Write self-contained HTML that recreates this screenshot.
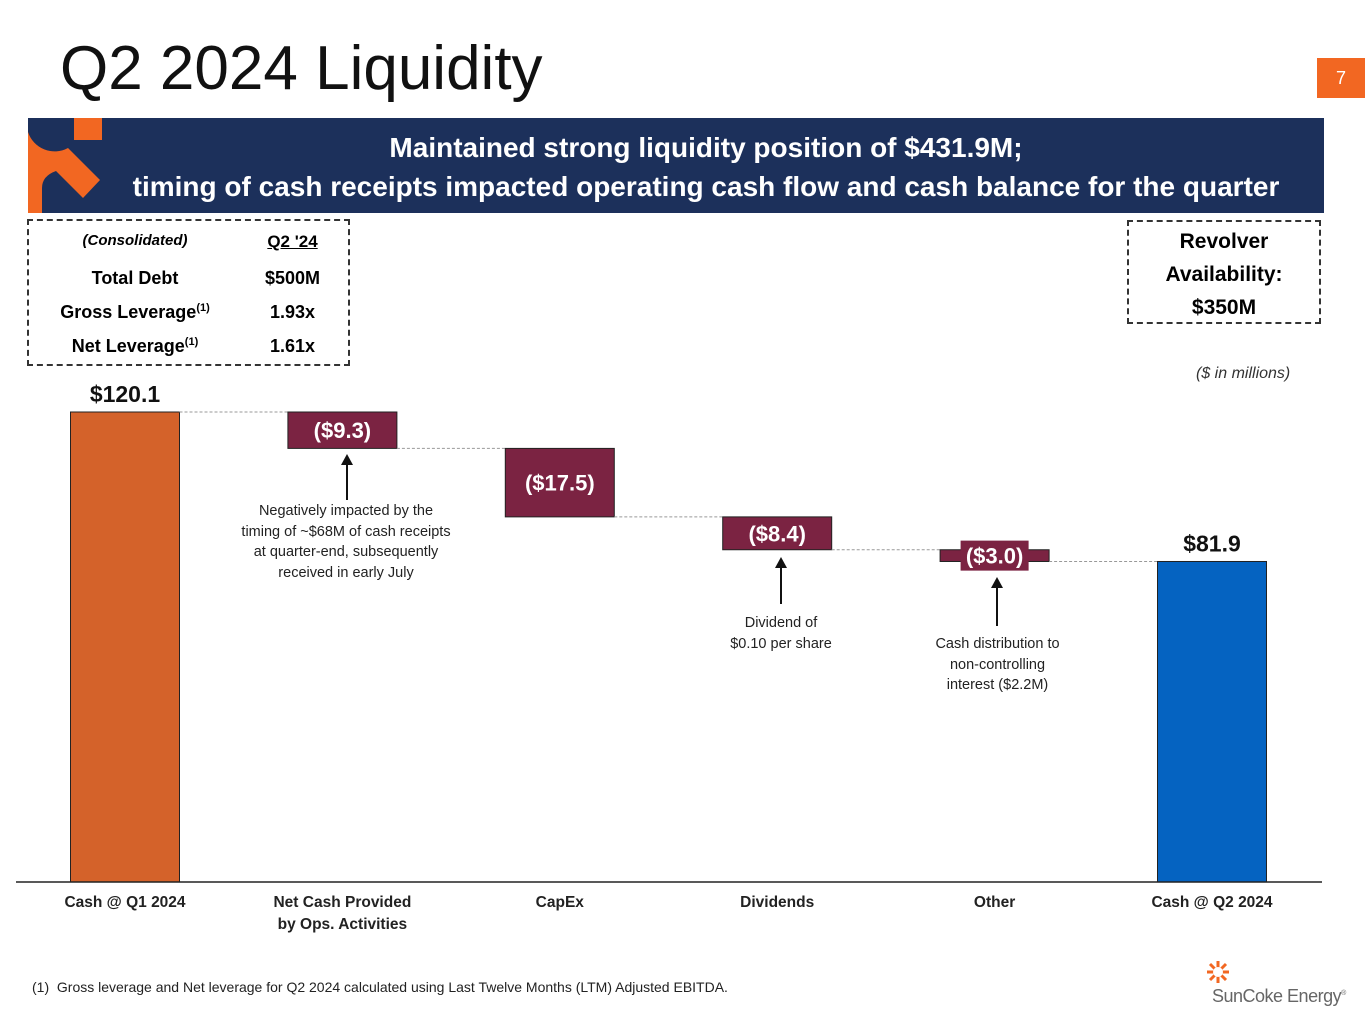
<!DOCTYPE html>
<html><head><meta charset="utf-8"><style>
body{margin:0;width:1365px;height:1024px;background:#fff;position:relative;overflow:hidden;font-family:"Liberation Sans",sans-serif}
.a{position:absolute}
.b{font-weight:bold}
</style></head><body>
<div class="a" style="left:60px;top:33px;font-size:62px;color:#111">Q2 2024 Liquidity</div>
<div class="a" style="left:1317px;top:58px;width:48px;height:40px;background:#f26722;color:#fff;font-size:18px;text-align:center;line-height:40px">7</div>
<div class="a" style="left:28px;top:118px;width:1296px;height:95px;background:#1c305b"></div>
<svg class="a" style="left:28px;top:118px" width="75" height="95"><rect x="46" y="0" width="28" height="22" fill="#f26722"/><path d="M0 14 A28 28 0 0 0 40 30 L72 62 L55 80 L28 53 Q14 58 14 70 L14 95 L0 95 Z" fill="#f26722"/></svg>
<div class="a b" style="left:28px;top:128px;width:1356px;text-align:center;color:#fff;font-size:28px;line-height:39px">Maintained strong liquidity position of $431.9M;<br>timing of cash receipts impacted operating cash flow and cash balance for the quarter</div>
<div class="a" style="left:27px;top:219px;width:319px;height:143px;border:2px dashed #333"></div>
<div class="a b" style="left:50px;top:232px;width:170px;text-align:center;font-size:15px;font-style:italic">(Consolidated)</div>
<div class="a b" style="left:250px;top:232px;width:85px;text-align:center;font-size:17px;text-decoration:underline">Q2 '24</div>
<div class="a b" style="left:50px;top:268px;width:170px;text-align:center;font-size:18px">Total Debt</div>
<div class="a b" style="left:250px;top:268px;width:85px;text-align:center;font-size:18px">$500M</div>
<div class="a b" style="left:50px;top:302px;width:170px;text-align:center;font-size:18px">Gross Leverage<sup style="font-size:11px">(1)</sup></div>
<div class="a b" style="left:250px;top:302px;width:85px;text-align:center;font-size:18px">1.93x</div>
<div class="a b" style="left:50px;top:336px;width:170px;text-align:center;font-size:18px">Net Leverage<sup style="font-size:11px">(1)</sup></div>
<div class="a b" style="left:250px;top:336px;width:85px;text-align:center;font-size:18px">1.61x</div>
<div class="a b" style="left:1127px;top:220px;width:194px;height:104px;border:2px dashed #333;text-align:center;font-size:21px;line-height:33px;padding-top:3px;box-sizing:border-box">Revolver<br>Availability:<br>$350M</div>
<div class="a" style="left:1196px;top:365px;font-size:16px;font-style:italic;color:#333">($ in millions)</div>
<svg class="a" id="chart" style="left:0;top:0" width="1365" height="1024"></svg>
<div class="a" style="left:206px;top:501px;width:280px;text-align:center;font-size:14.5px;line-height:20.5px;color:#222">Negatively impacted by the<br>timing of ~$68M of cash receipts<br>at quarter-end, subsequently<br>received in early July</div>
<div class="a" style="left:700px;top:613px;width:162px;text-align:center;font-size:14.5px;line-height:20.5px;color:#222">Dividend of<br>$0.10 per share</div>
<div class="a" style="left:900px;top:634px;width:195px;text-align:center;font-size:14.5px;line-height:20.5px;color:#222">Cash distribution to<br>non-controlling<br>interest ($2.2M)</div>
<div class="a" style="left:32px;top:979px;font-size:14px;color:#222">(1)&nbsp; Gross leverage and Net leverage for Q2 2024 calculated using Last Twelve Months (LTM) Adjusted EBITDA.</div>
<svg class="a" style="left:1206px;top:960px" width="24" height="24"><g stroke="#f26722" stroke-width="3"><line x1="12" y1="1" x2="12" y2="23"/><line x1="1" y1="12" x2="23" y2="12"/><line x1="4" y1="4" x2="20" y2="20"/><line x1="20" y1="4" x2="4" y2="20"/></g><circle cx="12" cy="12" r="5" fill="#fff"/></svg>
<div class="a" style="left:1212px;top:986px;font-size:18px;color:#666;letter-spacing:-0.5px">SunCoke Energy<sup style="font-size:7px">®</sup></div>
<script>
const categories=["Cash @ Q1 2024","Net Cash Provided|by Ops. Activities","CapEx","Dividends","Other","Cash @ Q2 2024"];
const deltas=[120.1,-9.3,-17.5,-8.4,-3.0,81.9];
const labels=["$120.1","($9.3)","($17.5)","($8.4)","($3.0)","$81.9"];
const kinds=["total","delta","delta","delta","delta","total"];
const NS="http://www.w3.org/2000/svg",svg=document.getElementById('chart');
const base=882,k=470/120.1,x0=125,step=217.4,bw=109;
const y=v=>base-v*k,cx=i=>x0+i*step;
function mk(t,a){const e=document.createElementNS(NS,t);for(const n in a)e.setAttribute(n,a[n]);svg.appendChild(e);return e;}
let run=0;
deltas.forEach((d,i)=>{
 let top,bot,fill;
 if(kinds[i]==="total"){top=y(d);bot=base;fill=i===0?"#d4622a":"#0563c1";run=d;}
 else{top=y(run);bot=y(run+d);run+=d;fill="#7b2342";}
 const r=mk('rect',{x:cx(i)-bw/2,y:top,width:bw,height:bot-top,fill:fill,stroke:"#222","stroke-width":1});
 
 
 const lvl=kinds[i]==="total"?top:bot;
 if(i<deltas.length-1){const l=mk('line',{x1:cx(i)+bw/2,x2:cx(i+1)-bw/2,y1:lvl,y2:lvl,stroke:"#999","stroke-dasharray":"3,2"});
  
  }
 let t;
 if(kinds[i]==="total"){t=mk('text',{x:cx(i),y:top-10,"text-anchor":"middle","font-size":23,"font-weight":"bold",fill:"#111"});}
 else{const mid=(top+bot)/2;
  if(bot-top<20){mk('rect',{x:cx(i)-34,y:mid-15,width:68,height:30,fill:"#7b2342"});}
  t=mk('text',{x:cx(i),y:mid+8,"text-anchor":"middle","font-size":22,"font-weight":"bold",fill:"#fff"});}
 t.textContent=labels[i];
 
 
 const parts=categories[i].split('|');
 parts.forEach((p,j)=>{const c=mk('text',{x:cx(i),y:907+j*22,"text-anchor":"middle","font-size":15.5,"font-weight":"bold",fill:"#222"});c.textContent=p;
  
  });
});
const ax=mk('line',{x1:16,x2:1322,y1:base,y2:base,stroke:"#222","stroke-width":1.5});


[[347,454,500],[781,557,604],[997,577,626]].forEach((a,i)=>{
 const l=mk('line',{x1:a[0],x2:a[0],y1:a[1]+8,y2:a[2],stroke:"#111","stroke-width":2});
 
 
 mk('path',{d:`M${a[0]-6} ${a[1]+11} L${a[0]} ${a[1]} L${a[0]+6} ${a[1]+11} Z`,fill:"#111"});
});
</script>
</body></html>
